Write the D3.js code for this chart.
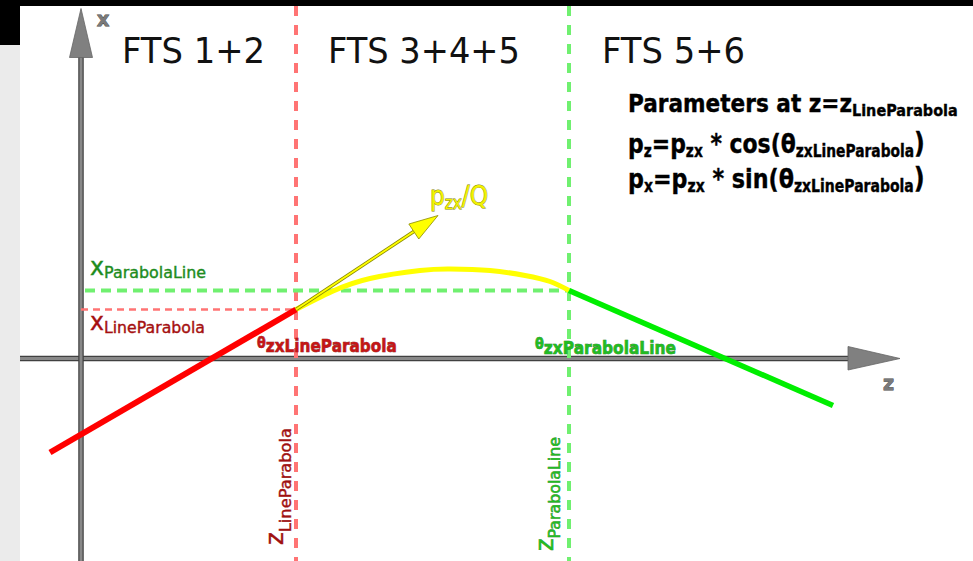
<!DOCTYPE html>
<html>
<head>
<meta charset="utf-8">
<script src="https://cdn.jsdelivr.net/npm/d3@7"></script>
<style>
  html, body { margin: 0; padding: 0; background: #fff; }
  svg { display: block; }
  text { font-family: "DejaVu Sans", sans-serif; }
</style>
</head>
<body>
<svg id="chart" width="973" height="561"></svg>
<script>
// ---- Track model in (z, x) units ----
const regionLabels = ["FTS 1+2", "FTS 3+4+5", "FTS 5+6"];

// matching planes between the straight-line and parabola parts
const zLineParabola = 21.5;
const zParabolaLine = 48.8;
const xLineParabola = 4.9;
const xParabolaLine = 6.8;

// straight track before the magnet (z, x)
const lineInZ = [-3.1, 21.5];
const lineInX = [-9.4, 4.9];

// parabolic track inside the field region (z, x)
const parabolaZ = [21.5, 25.1, 28.9, 33.9, 36.9, 40.9, 44.4, 46.9, 48.8];
const parabolaX = [4.9, 6.7, 8.0, 8.8, 8.95, 8.8, 8.3, 7.7, 6.8];

// straight track after the magnet (z, x)
const lineOutZ = [48.8, 75.2];
const lineOutX = [6.8, -4.7];

// momentum vector p_zx/Q drawn at z = zLineParabola
const momentumZ = [21.5, 35.7];
const momentumX = [4.9, 14.3];

// axis extents
const zAxisRange = [-6.1, 81.9];
const xAxisRange = [-20.3, 35.0];

const W = 973, H = 561;
const svg = d3.select("#chart");

const zScale = d3.scaleLinear().domain([0, 10]).range([81, 181]);
const xScale = d3.scaleLinear().domain([0, 10]).range([358.5, 258.5]);

// ---- frame ----
svg.append("rect").attr("width", W).attr("height", H).attr("fill", "#fff");
svg.append("rect").attr("x", 0).attr("y", 0).attr("width", 20).attr("height", H).attr("fill", "#ebebeb");
svg.append("rect").attr("x", 0).attr("y", 0).attr("width", 20).attr("height", 45).attr("fill", "#000");
svg.append("rect").attr("x", 0).attr("y", 0).attr("width", W).attr("height", 6).attr("fill", "#000");

// ---- axes ----
const axisG = svg.append("g");
function axisBar(x1, y1, x2, y2) {
  axisG.append("line").attr("x1", x1).attr("y1", y1).attr("x2", x2).attr("y2", y2)
    .attr("stroke", "#404040").attr("stroke-width", 5.5);
  axisG.append("line").attr("x1", x1).attr("y1", y1).attr("x2", x2).attr("y2", y2)
    .attr("stroke", "#888").attr("stroke-width", 3);
}
const z0 = zScale(0), x0 = xScale(0);
// z axis
axisBar(zScale(zAxisRange[0]), x0, zScale(zAxisRange[1]) - 50, x0);
axisG.append("path")
  .attr("d", `M${zScale(zAxisRange[1]) - 52},${x0 - 12}L${zScale(zAxisRange[1])},${x0}L${zScale(zAxisRange[1]) - 52},${x0 + 11.5}Z`)
  .attr("fill", "#808080").attr("stroke", "#666").attr("stroke-width", 0.8);
// x axis
axisBar(z0, xScale(xAxisRange[0]), z0, xScale(xAxisRange[1]) + 48);
axisG.append("path")
  .attr("d", `M${z0 - 11.5},${xScale(xAxisRange[1]) + 49}L${z0},${xScale(xAxisRange[1])}L${z0 + 11.5},${xScale(xAxisRange[1]) + 49}Z`)
  .attr("fill", "#808080").attr("stroke", "#666").attr("stroke-width", 0.8);

// ---- matching planes ----
const guides = svg.append("g");
guides.append("line")
  .attr("x1", zScale(zLineParabola)).attr("x2", zScale(zLineParabola))
  .attr("y1", 6).attr("y2", H)
  .attr("stroke", "#ff7474").attr("stroke-width", 4).attr("stroke-dasharray", "10,9");
guides.append("line")
  .attr("x1", zScale(zParabolaLine)).attr("x2", zScale(zParabolaLine))
  .attr("y1", 6).attr("y2", H)
  .attr("stroke", "#70f070").attr("stroke-width", 4).attr("stroke-dasharray", "10,9");
guides.append("line")
  .attr("x1", z0).attr("x2", zScale(zLineParabola))
  .attr("y1", xScale(xLineParabola)).attr("y2", xScale(xLineParabola))
  .attr("stroke", "#ff7474").attr("stroke-width", 2.5).attr("stroke-dasharray", "7,5");
guides.append("line")
  .attr("x1", z0 + 4).attr("x2", zScale(zParabolaLine))
  .attr("y1", xScale(xParabolaLine)).attr("y2", xScale(xParabolaLine))
  .attr("stroke", "#70f070").attr("stroke-width", 4).attr("stroke-dasharray", "10,6");

// ---- track ----
const line = d3.line().x(d => zScale(d[0])).y(d => xScale(d[1]));
const tracks = svg.append("g").attr("fill", "none").attr("stroke-linecap", "butt");
tracks.append("path")
  .attr("d", line.curve(d3.curveNatural)(d3.zip(parabolaZ, parabolaX)))
  .attr("stroke", "#ffff00").attr("stroke-width", 5);
tracks.append("path")
  .attr("d", line.curve(d3.curveLinear)(d3.zip(lineInZ, lineInX)))
  .attr("stroke", "#ff0000").attr("stroke-width", 6);
tracks.append("path")
  .attr("d", line.curve(d3.curveLinear)(d3.zip(lineOutZ, lineOutX)))
  .attr("stroke", "#00ee00").attr("stroke-width", 5.5);

// ---- momentum arrow ----
{
  const ax1 = zScale(momentumZ[0]), ay1 = xScale(momentumX[0]);
  const ax2 = zScale(momentumZ[1]), ay2 = xScale(momentumX[1]);
  const ang = Math.atan2(ay2 - ay1, ax2 - ax1);
  const headL = 29, headW = 9;
  const bx = ax2 - headL * Math.cos(ang), by = ay2 - headL * Math.sin(ang);
  const nx = -Math.sin(ang), ny = Math.cos(ang);
  const g = svg.append("g");
  g.append("line").attr("x1", ax1).attr("y1", ay1).attr("x2", bx).attr("y2", by)
    .attr("stroke", "#8a8a00").attr("stroke-width", 3.4);
  g.append("line").attr("x1", ax1).attr("y1", ay1).attr("x2", bx).attr("y2", by)
    .attr("stroke", "#ffff00").attr("stroke-width", 1.8);
  g.append("path")
    .attr("d", `M${ax2},${ay2}L${bx + nx * headW},${by + ny * headW}L${bx - nx * headW},${by - ny * headW}Z`)
    .attr("fill", "#ffff00").attr("stroke", "#8a8a00").attr("stroke-width", 0.8);
}

// ---- labels ----
// Each label is a list of runs [text, fontSize, baselineShift]; the run is
// squeezed horizontally to the given advance width.
function label(x, y, runs, opts) {
  const g = svg.append("g");
  const t = g.append("text").attr("x", 0).attr("y", 0)
    .attr("fill", opts.fill)
    .attr("font-weight", opts.bold ? "bold" : "normal");
  if (opts.stroke) {
    t.attr("stroke", opts.stroke).attr("stroke-width", opts.strokeWidth || 0.6)
      .attr("paint-order", "stroke");
  }
  let shift = 0;
  runs.forEach(([txt, size, dy]) => {
    t.append("tspan").attr("font-size", size).attr("dy", dy - shift).text(txt);
    shift = dy;
  });
  const len = t.node().getComputedTextLength();
  const s = opts.width ? opts.width / len : 1;
  const rot = opts.rotate ? ` rotate(${opts.rotate})` : "";
  g.attr("transform", `translate(${x},${y})${rot} scale(${s},1)`);
  return g;
}

// region titles
const regionStarts = [122, 328, 602];
const regionWidths = [143, 192, 143];
regionLabels.forEach((txt, i) => {
  label(regionStarts[i], 63, [[txt, 35, 0]], { fill: "#111", width: regionWidths[i] });
});

// axis names
label(97, 26, [["x", 19, 0]], { fill: "#7a7a7a", bold: true, stroke: "#444", strokeWidth: 0.8 });
label(883, 390, [["z", 19, 0]], { fill: "#7a7a7a", bold: true, stroke: "#444", strokeWidth: 0.8 });

// parameter box
label(628, 112, [["Parameters at z=z", 24, 0], ["LineParabola", 16, 4]],
  { fill: "#000", bold: true, width: 330, stroke: "#000", strokeWidth: 0.4 });
label(628, 153, [["p", 27, 0], ["z", 17, 4], ["=p", 27, 0], ["zx", 17, 4], [" * cos(θ", 27, 0], ["zxLineParabola", 17, 4], [")", 29, 0]],
  { fill: "#000", bold: true, width: 297, stroke: "#000", strokeWidth: 0.4 });
label(628, 188, [["p", 27, 0], ["x", 17, 4], ["=p", 27, 0], ["zx", 17, 4], [" * sin(θ", 27, 0], ["zxLineParabola", 17, 4], [")", 29, 0]],
  { fill: "#000", bold: true, width: 297, stroke: "#000", strokeWidth: 0.4 });

// plane coordinates
label(90, 275, [["x", 24, 0], ["ParabolaLine", 16, 3]],
  { fill: "#1d8c1d", width: 116, stroke: "#1d8c1d", strokeWidth: 0.4 });
label(90, 330, [["x", 24, 0], ["LineParabola", 16, 3]],
  { fill: "#a50f0f", width: 115, stroke: "#a50f0f", strokeWidth: 0.4 });

// angles at the matching planes
label(257, 348, [["θ", 15, 0], ["zxLineParabola", 18, 4]],
  { fill: "#c41616", bold: true, stroke: "#7a0c0c", strokeWidth: 0.6, width: 140 });
label(535, 349, [["θ", 15, 0], ["zxParabolaLine", 18, 5]],
  { fill: "#22bb22", bold: true, stroke: "#107010", strokeWidth: 0.6, width: 141 });

// momentum label
label(430, 205, [["p", 26, 0], ["zx", 17, 4], ["/Q", 26, 0]],
  { fill: "#f2f200", stroke: "#858500", strokeWidth: 0.9, width: 58 });

// plane positions along z (vertical labels)
label(283, 545, [["z", 24, 0], ["LineParabola", 16, 8]],
  { fill: "#a01010", stroke: "#a01010", strokeWidth: 0.4, rotate: -90, width: 117 });
label(553, 551, [["z", 24, 0], ["ParabolaLine", 16, 7]],
  { fill: "#22bb22", stroke: "#107010", strokeWidth: 0.5, rotate: -90, width: 114 });
</script>
</body>
</html>
